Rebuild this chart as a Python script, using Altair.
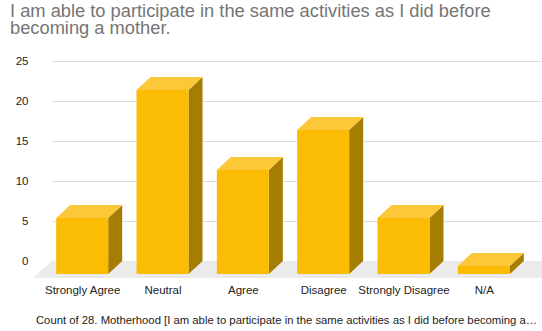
import json
import altair as alt
import pandas as pd

# ---- data ----
categories = ["Strongly Agree", "Neutral", "Agree", "Disagree", "Strongly Disagree", "N/A"]
counts = [7, 23, 13, 18, 7, 1]
y_ticks = [0, 5, 10, 15, 20, 25]
title_lines = ["I am able to participate in the same activities as I did before",
               "becoming a mother."]
x_title = ("Count of 28. Motherhood [I am able to participate in the same "
           "activities as I did before becoming a\u2026")

# ---- 3-D look geometry (in scale units) ----
X_DOMAIN = [-0.55, 5.55]
PX_PER_X = 490 / (X_DOMAIN[1] - X_DOMAIN[0])
PX_PER_Y = 8.0
DX = 14 / PX_PER_X        # depth shift to the left
DY = 13 / PX_PER_Y        # depth shift downward
HW = 26 / PX_PER_X        # half width of bar face
FX = 19 / PX_PER_X        # floor depth (x)
FD = 17 / PX_PER_Y        # floor depth (y)

front_rows, side_rows, top_rows = [], [], []
for i, (c, v) in enumerate(zip(categories, counts)):
    front_rows.append(dict(cat=c, x=i - DX - HW, x2=i - DX + HW, hi=v - DY, lo=-DY))
    side_rows += [dict(cat=c, x=i - DX + HW, hi=v - DY, lo=-DY),
                  dict(cat=c, x=i + HW, hi=v, lo=0)]
    top_rows += [dict(cat=c, x=i - DX - HW, hi=v - DY, lo=v - DY),
                 dict(cat=c, x=i - HW, hi=v, lo=v - DY),
                 dict(cat=c, x=i - DX + HW, hi=v, lo=v - DY),
                 dict(cat=c, x=i + HW, hi=v, lo=v)]

L, R = X_DOMAIN[0], X_DOMAIN[1] + 0.25
floor_rows = [dict(x=L - FX, hi=-FD, lo=-FD), dict(x=L, hi=0, lo=-FD),
              dict(x=R - FX, hi=0, lo=-FD), dict(x=R, hi=0, lo=0)]

front_df = pd.DataFrame(front_rows)
side_df = pd.DataFrame(side_rows)
top_df = pd.DataFrame(top_rows)
floor_df = pd.DataFrame(floor_rows)

FONT = "Liberation Sans"

x_scale = alt.Scale(domain=X_DOMAIN, nice=False, zero=False)
y_scale = alt.Scale(domain=[0, 25], nice=False)

x_axis = alt.Axis(
    values=list(range(len(categories))),
    labelExpr=f"{json.dumps(categories)}[datum.value]",
    labelOffset=-14, labelPadding=23, labelFlush=False, labelOverlap=False,
    labelBound=False, labelFont=FONT, labelFontSize=11.5, labelColor="#222222",
    ticks=False, grid=False, domainColor="#333333", domainWidth=1,
    title=x_title, titleFont=FONT, titleFontSize=11.3, titleFontWeight="normal",
    titleColor="#222222", titleX=234, titleY=62, titleAlign="center",
    titleBaseline="alphabetic", titleAnchor="start",
)
y_axis = alt.Axis(
    values=y_ticks, labelPadding=24, labelFont=FONT, labelFontSize=11.5,
    labelColor="#222222", ticks=False, domain=False, gridColor="#dddddd",
    labelOverlap=False, title=None,
)

X = alt.X("x:Q", scale=x_scale, axis=x_axis)
Y = alt.Y("hi:Q", scale=y_scale, axis=y_axis)

floor = alt.Chart(floor_df).mark_area(color="#ebebeb", orient="vertical", clip=False).encode(
    x=X, y=Y, y2="lo:Q",
)

front = alt.Chart(front_df).mark_rect(color="#fbbc04", clip=False).encode(
    x=X, x2="x2:Q", y=Y, y2="lo:Q",
)

side = alt.Chart(side_df).mark_area(color="#a67d03", orient="vertical", clip=False).encode(
    x=X, y=Y, y2="lo:Q", detail="cat:N",
)

top = alt.Chart(top_df).mark_area(color="#fcc83a", orient="vertical", clip=False).encode(
    x=X, y=Y, y2="lo:Q", detail="cat:N",
)

chart = alt.layer(floor, side, top, front).properties(
    width=490, height=200,
    padding={"left": 52, "top": 61, "right": 0, "bottom": 70},
    autosize=alt.AutoSizeParams(type="none"),
    title=alt.TitleParams(
        text=title_lines, anchor="start", frame="group", dx=-42, offset=17,
        font=FONT, fontSize=18.3, fontWeight="normal", color="#757575",
        lineHeight=17,
    ),
).configure(background="white", view=alt.ViewConfig(stroke=None))

chart.save("out.html", embed_options={"renderer": "svg", "actions": False})
